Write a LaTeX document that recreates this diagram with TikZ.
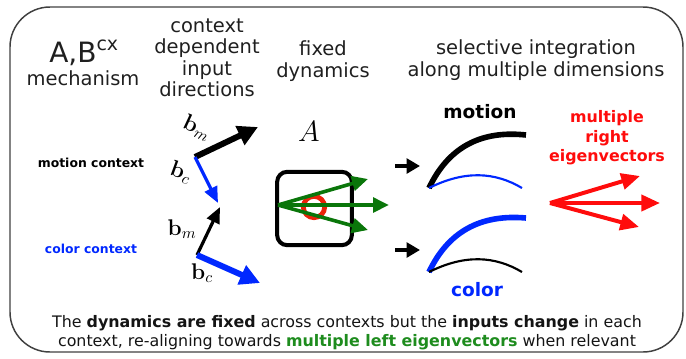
\RequirePackage{fix-cm}
\documentclass[tikz,border=0pt]{standalone}
\usepackage[no-math]{fontspec}
\setmainfont{DejaVu Sans}
\usepackage{tikz}
\usetikzlibrary{arrows.meta,%
		positioning}
\definecolor{ctxblue}{RGB}{0,40,255}
\definecolor{eiggreen}{RGB}{10,118,10}
\definecolor{txtgreen}{RGB}{30,140,30}
\definecolor{eigred}{RGB}{255,12,12}
\definecolor{ringred}{RGB}{235,35,10}

\begin{document}
\begin{tikzpicture}[x=0.75pt,y=-0.75pt,
  head/.style={align=center,text=black!88,font=\fontsize{14.6}{16.1}\selectfont},
  ctxlbl/.style={font=\fontsize{9.3}{11}\selectfont\bfseries},
  veclbl/.style={inner sep=0pt,font=\fontsize{17}{19}\selectfont},
  curvelbl/.style={font=\fontsize{13.9}{16}\selectfont\bfseries},
  fatvec/.style={line width=4.5pt,-{Triangle[length=15pt,width=15pt]}},
  slimvec/.style={line width=2.4pt,-{Triangle[length=12pt,width=10pt]}},
  eigvec/.style={eiggreen,line width=2.7pt,-{Triangle[length=12pt,width=11pt]}},
  rightvec/.style={eigred,line width=3pt,-{Triangle[length=14pt,width=12pt]}},
  inarrow/.style={line width=3.4pt,-{Triangle[length=10pt,width=11pt]}}]

  \useasboundingbox (0,0) rectangle (686,358);
  \draw[black!75,line width=1.1pt,rounded corners=30pt] (10,7) rectangle (683,352);

  % column headings
  \node[anchor=base west,inner sep=0pt,text=black!88] (ab) at (49,62)
    {\fontsize{21}{25}\selectfont A,B\raisebox{8.6pt}{\fontsize{14.2}{16}\selectfont cx}};
  \node[head,anchor=base] (mech) at (83,85) {mechanism};
  \node[head] (inp) at (207,58) {context\\dependent\\input\\directions};
  \node[head] (fix) at (323,61) {fixed\\dynamics};
  \node[head] (sel) at (536,60) {selective integration\\along multiple dimensions};

  % contexts and input directions
  \node[ctxlbl] (mctx) at (91,163) {motion context};
  \node[ctxlbl,text=ctxblue] (cctx) at (91,249) {color context};

  \coordinate (mo) at (195,157);
  \coordinate (mbm) at (258,127);
  \coordinate (mbc) at (218,203);
  \coordinate (co) at (197,255);
  \coordinate (cbm) at (220,207);
  \coordinate (cbc) at (260,283);
  \draw[fatvec] (mo) -- (mbm);
  \draw[slimvec,ctxblue] (mo) -- (mbc);
  \draw[slimvec] (co) -- (cbm);
  \draw[fatvec,ctxblue] (co) -- (cbc);
  \node[veclbl,rotate=-25] (lbm) at (197,128) {$\mathbf{b}_m$};
  \node[veclbl,rotate=-20] (lbc) at (181,172) {$\mathbf{b}_c$};
  \node[veclbl] (lcm) at (182,229) {$\mathbf{b}_m$};
  \node[veclbl] (lcc) at (202,273) {$\mathbf{b}_c$};

  % fixed dynamics
  \node[font=\fontsize{22}{24}\selectfont] (amat) at (309,131) {$A$};
  \node[draw,line width=3pt,rounded corners=7.5pt,minimum width=56pt,
    minimum height=55pt] (dyn) at (314.5,208.5) {};
  \draw[ringred,line width=3.6pt] (314,207) circle (8pt);
  \coordinate (go) at (278,205);
  \coordinate (g1) at (368,179);
  \coordinate (g2) at (389,205);
  \coordinate (g3) at (368,230);
  \foreach \t in {g1,g2,g3}
    \draw[eigvec] (go) -- (\t);

  % integration along dimensions
  \coordinate (ia) at (395,166);
  \coordinate (ib) at (420,166);
  \coordinate (ic) at (395,250);
  \coordinate (id) at (420,250);
  \draw[inarrow] (ia) -- (ib);
  \draw[inarrow] (ic) -- (id);
  \node[curvelbl] (mot) at (480,112) {motion};
  \node[curvelbl,text=ctxblue] (col) at (477,290) {color};
  \draw[line width=4.2pt] (429,188) .. controls (448,148) and (480,130) .. (526,135);
  \draw[ctxblue,line width=1.6pt] (429,188) .. controls (465,170) and (495,172) .. (522,188);
  \draw[ctxblue,line width=4.2pt] (429,272) .. controls (448,232) and (480,214) .. (526,218);
  \draw[line width=1.6pt] (429,272) .. controls (465,254) and (495,256) .. (522,272);

  % right eigenvectors
  \node[align=center,text=eigred,font=\fontsize{11.9}{14.6}\selectfont\bfseries] (rev)
    at (607,138) {multiple\\right\\eigenvectors};
  \coordinate (ro) at (550,203);
  \coordinate (r1) at (640,176);
  \coordinate (r2) at (660,203);
  \coordinate (r3) at (639,227);
  \foreach \t in {r1,r2,r3}
    \draw[rightvec] (ro) -- (\t);

  \node[align=center,text=black!92,font=\fontsize{11.9}{14.3}\selectfont] (note) at (347,333)
    {The \textbf{dynamics are fixed} across contexts but the \textbf{inputs change} in each\\
     context, re-aligning towards \textcolor{txtgreen}{\textbf{multiple left eigenvectors}} when relevant};

\end{tikzpicture}
\end{document}
